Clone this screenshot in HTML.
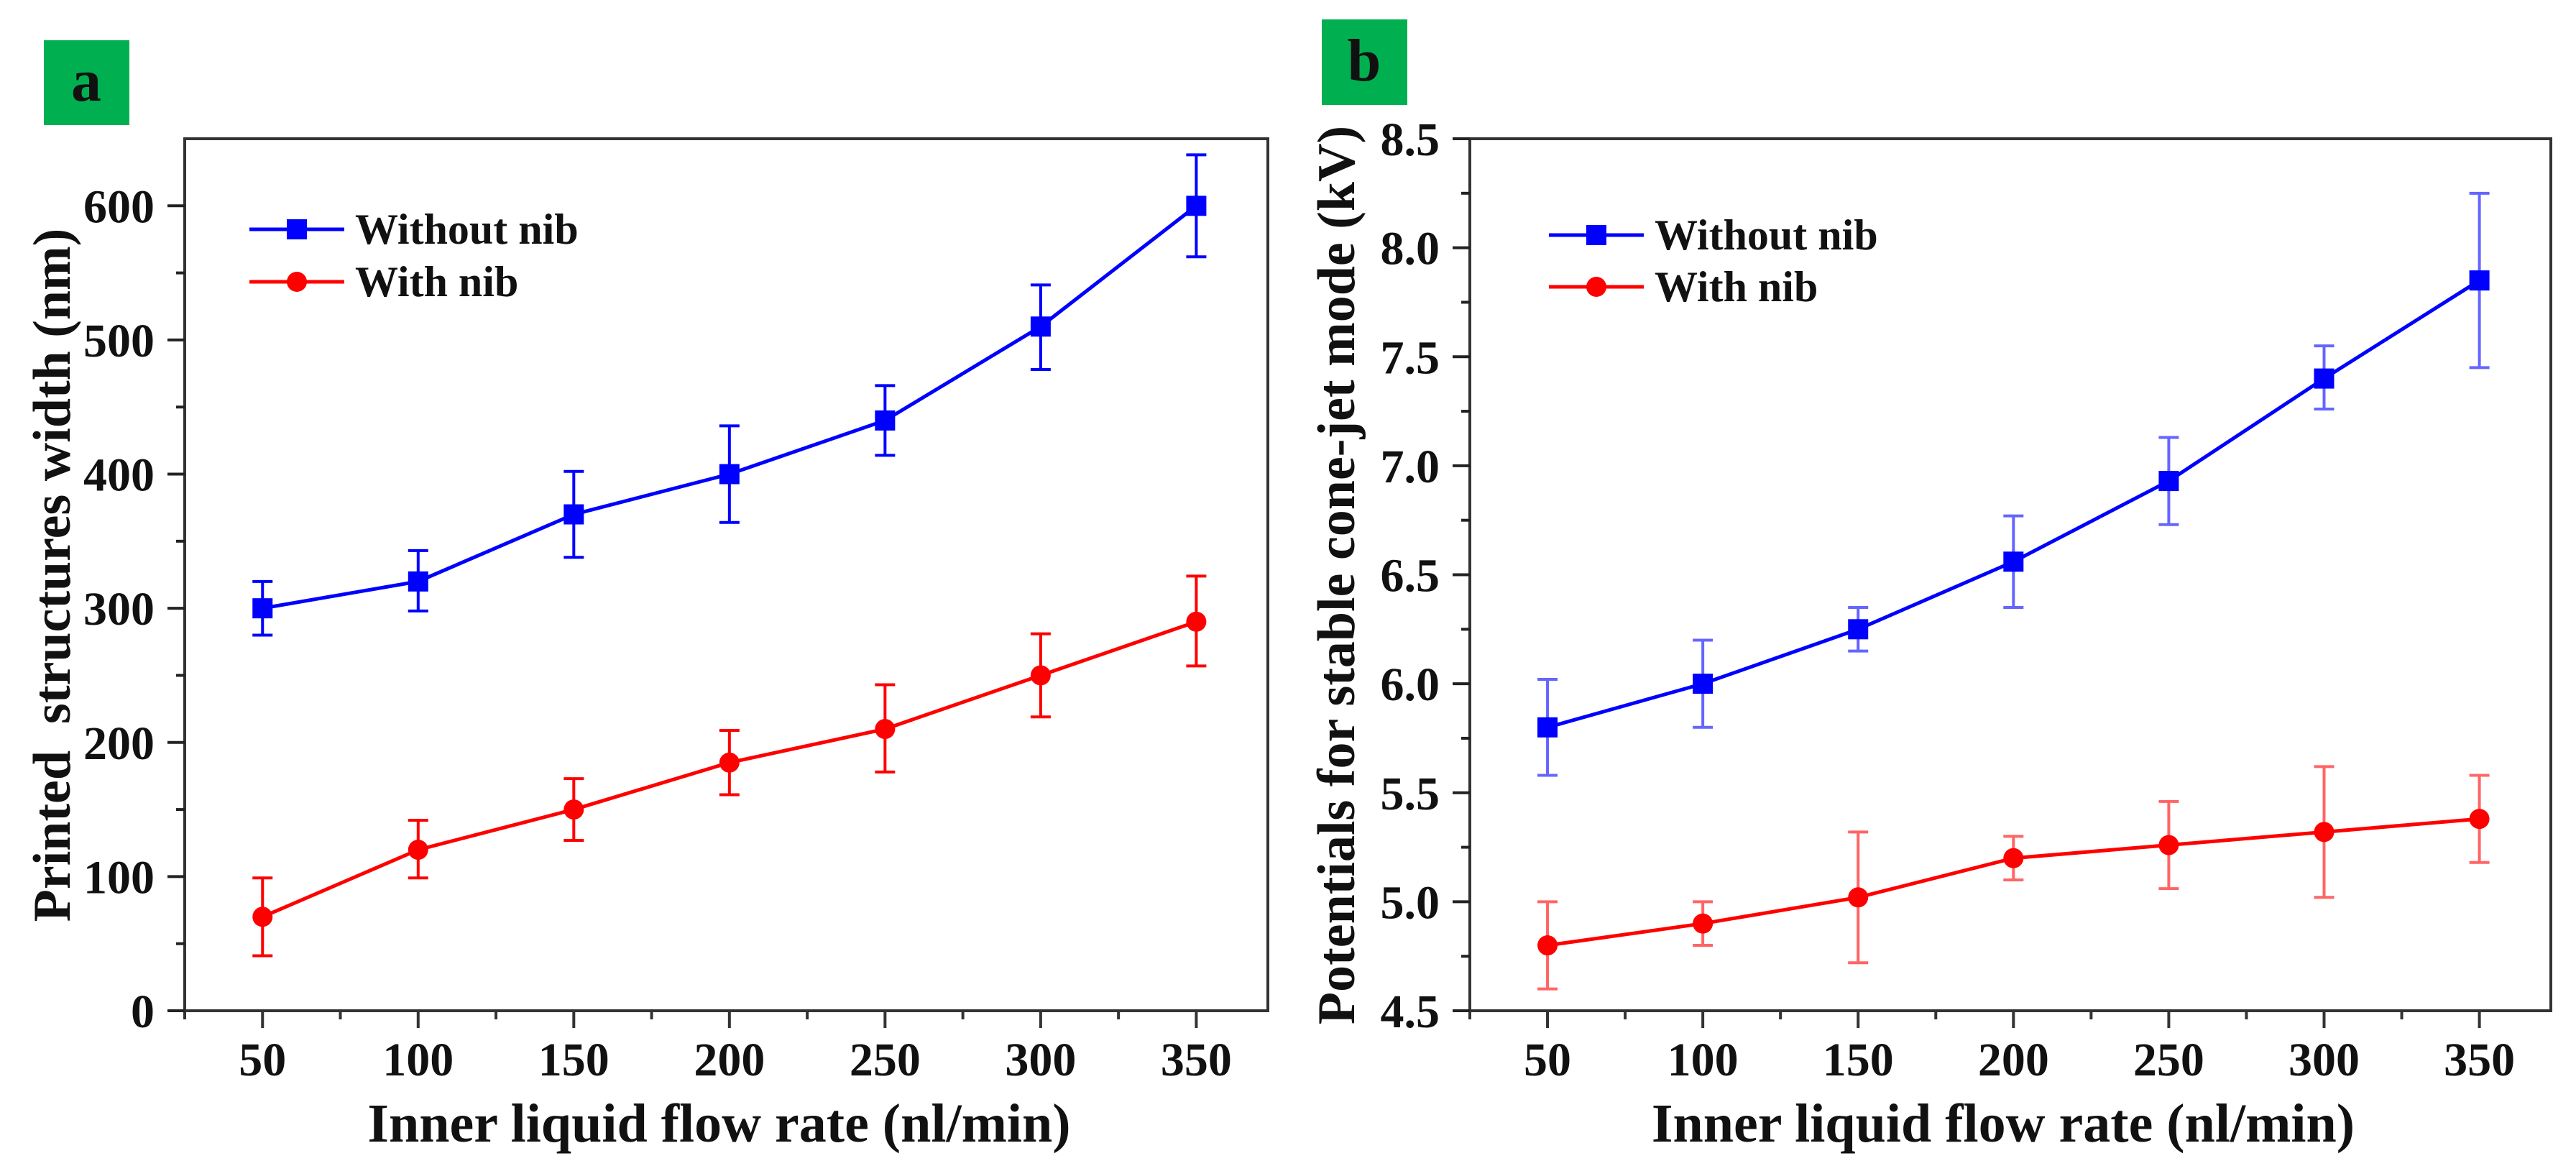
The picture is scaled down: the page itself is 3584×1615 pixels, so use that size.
<!DOCTYPE html>
<html><head><meta charset="utf-8">
<style>
html,body{margin:0;padding:0;background:#fff;}
svg{display:block;}
text{font-family:"Liberation Serif",serif;font-weight:bold;fill:#111;}
</style></head>
<body>
<svg id="fig" width="3584" height="1615" viewBox="0 0 3584 1615" xmlns="http://www.w3.org/2000/svg">
<rect x="0" y="0" width="3584" height="1615" fill="#fff"/>
<rect x="61" y="56" width="119" height="118" fill="#00B050"/>
<text x="120" y="140" font-size="84" text-anchor="middle">a</text>
<rect x="1839" y="27" width="119" height="119" fill="#00B050"/>
<text x="1898" y="112" font-size="84" text-anchor="middle">b</text>
<g id="chartA"></g>
<g id="chartB"></g>
</svg>
<script>
const categories = [50, 100, 150, 200, 250, 300, 350];
const aBlue = [300, 320, 370, 400, 440, 510, 600];
const aBlueLo = [280, 298, 338, 364, 414, 478, 562];
const aBlueHi = [320, 343, 402, 436, 466, 541, 638];
const aRed = [70, 120, 150, 185, 210, 250, 290];
const aRedLo = [41, 99, 127, 161, 178, 219, 257];
const aRedHi = [99, 142, 173, 209, 243, 281, 324];
const aYTicks = [0, 100, 200, 300, 400, 500, 600];
const bBlue = [5.8, 6.0, 6.25, 6.56, 6.93, 7.4, 7.85];
const bBlueLo = [5.58, 5.8, 6.15, 6.35, 6.73, 7.26, 7.45];
const bBlueHi = [6.02, 6.2, 6.35, 6.77, 7.13, 7.55, 8.25];
const bRed = [4.8, 4.9, 5.02, 5.2, 5.26, 5.32, 5.38];
const bRedLo = [4.6, 4.8, 4.72, 5.1, 5.06, 5.02, 5.18];
const bRedHi = [5.0, 5.0, 5.32, 5.3, 5.46, 5.62, 5.58];
const bYTicks = ["4.5", "5.0", "5.5", "6.0", "6.5", "7.0", "7.5", "8.0", "8.5"];
const seriesNames = ["Without nib", "With nib"];

const NS = "http://www.w3.org/2000/svg";
function mk(parent, tag, attrs) {
  const e = document.createElementNS(NS, tag);
  for (const k in attrs) e.setAttribute(k, attrs[k]);
  parent.appendChild(e);
  return e;
}

function drawChart(g, cfg) {
  const L = cfg.left, R = cfg.right, T = 193, B = 1406;
  const xs = v => L + (v - 25) / (373 - 25) * (R - L);
  const ys = v => B - (v - cfg.ymin) / (cfg.ymax - cfg.ymin) * (B - T);
  const frame = mk(g, "rect", {x: L, y: T, width: R - L, height: B - T, fill: "none", stroke: "#333", "stroke-width": 4});
  
  
  for (let v = 25; v <= 375; v += 25) {
    const major = (v % 50 === 0);
    const x = xs(v);
    if (x > R + 2) continue;
    const t = mk(g, "line", {x1: x, x2: x, y1: B, y2: B + (major ? 24 : 12), stroke: "#333", "stroke-width": 4});
    
    
  }
  categories.forEach(c => {
    const t = mk(g, "text", {x: xs(c), y: 1496, "font-size": 66, "text-anchor": "middle"});
    t.textContent = c;
    
    
  });
  for (let i = 0; i < cfg.yLabels.length; i++) {
    const v = cfg.yVals[i];
    const y = ys(v);
    const t = mk(g, "line", {x1: L - 24, x2: L, y1: y, y2: y, stroke: "#222", "stroke-width": 4});
    
    
    const lb = mk(g, "text", {x: L - 42, y: y + 23, "font-size": 66, "text-anchor": "end"});
    lb.textContent = cfg.yLabels[i];
    
    
    const mv = v + cfg.minorStep;
    if (mv < cfg.ymax - 1e-9) {
      const m = mk(g, "line", {x1: L - 12, x2: L, y1: ys(mv), y2: ys(mv), stroke: "#222", "stroke-width": 4});
      
      
    }
  }
  const xt = mk(g, "text", {x: (L + R) / 2 - 10, y: 1588, "font-size": 76, "text-anchor": "middle"});
  xt.textContent = "Inner liquid flow rate (nl/min)";
  
  
  const yt = mk(g, "text", {x: 0, y: 0, "font-size": 74, "text-anchor": "middle", transform: "translate(" + (cfg.ytX) + "," + cfg.ytY + ") rotate(-90)"});
  yt.textContent = cfg.yTitle;
  yt.style.whiteSpace = "pre";
  
  
  const series = [
    {vals: cfg.blue, lo: cfg.blueLo, hi: cfg.blueHi, color: "#0000FF", shape: "square"},
    {vals: cfg.red, lo: cfg.redLo, hi: cfg.redHi, color: "#FF0000", shape: "circle"}
  ];
  series.forEach((s, si) => {
    const sg = mk(g, "g", {});
    
    
    const pts = categories.map((c, i) => xs(c) + "," + ys(s.vals[i])).join(" ");
    const pl = mk(sg, "polyline", {points: pts, fill: "none", stroke: s.color, "stroke-width": 5});
    
    
    categories.forEach((c, i) => {
      const x = xs(c);
      const eg = mk(sg, "g", {stroke: s.color, "stroke-width": 4, opacity: cfg.errOpacity});
      
      
      mk(eg, "line", {x1: x, x2: x, y1: ys(s.lo[i]), y2: ys(s.hi[i])});
      mk(eg, "line", {x1: x - 14, x2: x + 14, y1: ys(s.lo[i]), y2: ys(s.lo[i])});
      mk(eg, "line", {x1: x - 14, x2: x + 14, y1: ys(s.hi[i]), y2: ys(s.hi[i])});
      let m;
      if (s.shape === "square") m = mk(sg, "rect", {x: x - 14, y: ys(s.vals[i]) - 14, width: 28, height: 28, fill: s.color});
      else m = mk(sg, "circle", {cx: x, cy: ys(s.vals[i]), r: 14, fill: s.color});
      
      
    });
  });
  const lg = mk(g, "g", {});
  
  
  series.forEach((s, si) => {
    const y = cfg.legY[si];
    const e = mk(lg, "g", {});
    
    
    mk(e, "line", {x1: cfg.legX, x2: cfg.legX + 132, y1: y, y2: y, stroke: s.color, "stroke-width": 5});
    const cx = cfg.legX + 66;
    if (s.shape === "square") mk(e, "rect", {x: cx - 14, y: y - 14, width: 28, height: 28, fill: s.color});
    else mk(e, "circle", {cx: cx, cy: y, r: 14, fill: s.color});
    const t = mk(e, "text", {x: cfg.legX + 147, y: y + 20, "font-size": 60});
    t.textContent = seriesNames[si];
  });
}

drawChart(document.getElementById("chartA"), {
  left: 257, right: 1764, ymin: 0, ymax: 650,
  yVals: aYTicks, yLabels: aYTicks.map(String), minorStep: 50,
  blue: aBlue, blueLo: aBlueLo, blueHi: aBlueHi, red: aRed, redLo: aRedLo, redHi: aRedHi,
  yTitle: "Printed  structures width (nm)", ytX: 97, ytY: 800,
  legX: 347, legY: [319, 392], errOpacity: 1
});
drawChart(document.getElementById("chartB"), {
  left: 2045, right: 3549, ymin: 4.5, ymax: 8.5,
  yVals: bYTicks.map(Number), yLabels: bYTicks, minorStep: 0.25,
  blue: bBlue, blueLo: bBlueLo, blueHi: bBlueHi, red: bRed, redLo: bRedLo, redHi: bRedHi,
  yTitle: "Potentials for stable cone-jet mode (kV)", ytX: 1884, ytY: 800,
  legX: 2155, legY: [327, 399], errOpacity: 0.6
});
</script>
</body></html>
